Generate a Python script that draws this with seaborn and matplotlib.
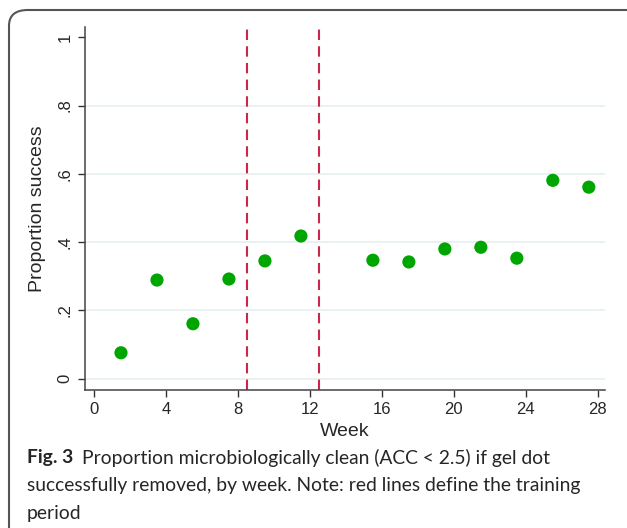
import matplotlib
matplotlib.use("Agg")
import matplotlib.pyplot as plt
import seaborn as sns
import pandas as pd
from matplotlib.patches import FancyBboxPatch

weeks = [1.5, 3.5, 5.5, 7.5, 9.5, 11.5, 15.5, 17.5, 19.5, 21.5, 23.5, 25.5, 27.5]
proportion = [0.076, 0.289, 0.161, 0.292, 0.345, 0.418, 0.347, 0.342, 0.380, 0.385, 0.353, 0.581, 0.561]
training_bounds = [8.5, 12.5]
xticks = [0, 4, 8, 12, 16, 20, 24, 28]
yticks = [0, 0.2, 0.4, 0.6, 0.8, 1.0]
ytick_labels = ["0", ".2", ".4", ".6", ".8", "1"]

df = pd.DataFrame({"Week": weeks, "Proportion success": proportion})

sns.set_theme(style="white")
plt.rcParams['font.family'] = ['Liberation Sans', 'DejaVu Sans']

fig = plt.figure(figsize=(6.27, 5.28), dpi=100)
ax = fig.add_axes([85/627, 1-390/528, (605-85)/627, (390-27)/528])

for y in yticks[:-1]:
    ax.axhline(y, color="#e6eff0", lw=1.2, zorder=0)

for xb in training_bounds:
    ax.axvline(xb, color="#c8284c", lw=1.5, ls=(0, (5, 3)), zorder=1)

sns.scatterplot(data=df, x="Week", y="Proportion success", ax=ax, color="#00a600",
                s=90, edgecolor="none", zorder=3)

ax.set_xlim(-0.5, 28.4)
ax.set_ylim(-0.033, 1.03)
ax.set_xticks(xticks)
ax.set_xticklabels([str(x) for x in xticks], fontsize=12)
ax.set_yticks(yticks)
ax.set_yticklabels(ytick_labels, fontsize=12, rotation=90, va="center")
ax.tick_params(axis="both", direction="out", length=5, width=1, color="#333333", pad=4, bottom=True, left=True)
for s in ["top", "right"]:
    ax.spines[s].set_visible(False)
for s in ["left", "bottom"]:
    ax.spines[s].set_color("#444444")
    ax.spines[s].set_linewidth(1.1)
ax.set_xlabel("Week", fontsize=14, labelpad=4)
ax.set_ylabel("Proportion success", fontsize=14, labelpad=8)

frame = FancyBboxPatch((9/627, -0.2), 1.2, (1 - 10/528) + 0.2,
                       boxstyle="round,pad=0,rounding_size=0.03",
                       transform=fig.transFigure, fill=False, edgecolor="#555555",
                       lw=1.5, clip_on=False)
fig.patches.append(frame)

cap_font = ['Lato', 'DejaVu Sans']
fs = 13.9
fig.text(27/627, 1-458/528, "Fig. 3", fontsize=fs, fontweight="bold", family=cap_font, va="center", ha="left")
fig.text(82/627, 1-458/528, "Proportion microbiologically clean (ACC < 2.5) if gel dot",
         fontsize=fs, family=cap_font, va="center", ha="left")
fig.text(27/627, 1-486/528, "successfully removed, by week. Note: red lines define the training",
         fontsize=fs, family=cap_font, va="center", ha="left")
fig.text(27/627, 1-513/528, "period", fontsize=fs, family=cap_font, va="center", ha="left")

fig.savefig("out.png", dpi=100)
